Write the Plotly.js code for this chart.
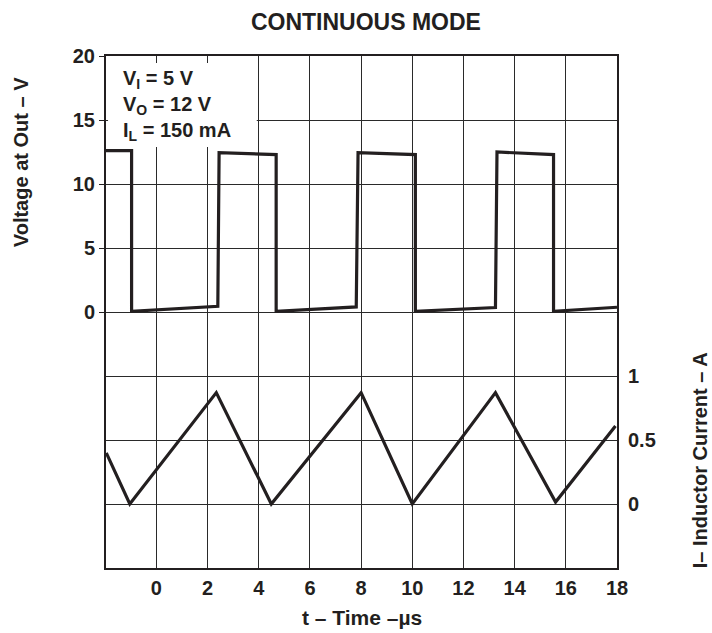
<!DOCTYPE html>
<html><head><meta charset="utf-8">
<script src="https://cdn.plot.ly/plotly-3.0.1.min.js"></script>
<style>body{margin:0;background:#fff}#chart{width:712px;height:633px}</style>
</head><body><div id="chart"></div>
<script>
const voltageTime = [-2, -0.97, -0.97, 2.40, 2.45, 4.68, 4.68, 7.81, 7.88, 10.12, 10.12, 13.25, 13.31, 15.52, 15.52, 18];
const voltageOut  = [12.6, 12.6, 0.05, 0.45, 12.45, 12.3, 0.05, 0.4, 12.45, 12.3, 0.05, 0.35, 12.5, 12.3, 0.05, 0.37];
const currentTime = [-1.96, -1.04, 2.34, 4.49, 8.0, 10.0, 13.25, 15.6, 17.94];
const inductorCurrent = [0.40, 0, 0.87, 0, 0.87, 0, 0.87, 0.015, 0.61];
const xTicks = [0, 2, 4, 6, 8, 10, 12, 14, 16, 18];
const voltTicks = [0, 5, 10, 15, 20];
const currentTicks = [0, 0.5, 1];
const currentTickText = ['0', '0.5', '1'];
const chartTitle = 'CONTINUOUS MODE';
const xTitle = 't – Time –µs';
const yTitle = 'Voltage at Out – V';
const y2Title = 'I– Inductor Current – A';
const conditions = 'V<sub>I</sub> = 5 V<br>V<sub>O</sub> = 12 V<br>I<sub>L</sub> = 150 mA';

const FONT = 'Liberation Sans, Arial, sans-serif';
const INK = '#231f20';
const GRID = '#2a2a2a';

const traces = [
  {x: voltageTime, y: voltageOut, type: 'scatter', mode: 'lines', yaxis: 'y',
   line: {color: INK, width: 3.2}, hoverinfo: 'skip'},
  {x: currentTime, y: inductorCurrent, type: 'scatter', mode: 'lines', yaxis: 'y2',
   line: {color: INK, width: 3.2}, hoverinfo: 'skip'}
];

const tickFont = {family: FONT, size: 20, color: INK, weight: 'bold'};

const layout = {
  width: 712, height: 633,
  margin: {l: 106, r: 95, t: 56, b: 65},
  paper_bgcolor: '#fff', plot_bgcolor: '#fff',
  showlegend: false,
  title: {text: chartTitle, font: {family: FONT, size: 23, color: INK, weight: 'bold'},
          x: 0.514, xanchor: 'center', y: 0.965, yanchor: 'middle'},
  xaxis: {
    range: [-1.97, 18], tickvals: xTicks, showgrid: true, gridcolor: GRID, gridwidth: 1,
    zeroline: false, showline: true, linecolor: INK, linewidth: 2, mirror: true,
    ticks: '', tickfont: tickFont, ticklabelstandoff: 1
  },
  yaxis: {
    range: [-20, 20], tickvals: voltTicks, showgrid: true, gridcolor: GRID, gridwidth: 1,
    zeroline: false, showline: true, linecolor: INK, linewidth: 2, mirror: true,
    ticks: 'outside', ticklen: 5, tickwidth: 1, tickcolor: INK, tickfont: tickFont
  },
  yaxis2: {
    range: [-0.5, 3.5], overlaying: 'y', side: 'right', tickvals: currentTicks, ticktext: currentTickText,
    showgrid: true, gridcolor: GRID, gridwidth: 1, zeroline: false, showline: false,
    ticks: '', tickfont: tickFont, ticklabelstandoff: 10
  },
  shapes: [
    {type: 'rect', xref: 'paper', yref: 'y', x0: 0.004, x1: 0.295, y0: 12.9, y1: 19.45,
     fillcolor: '#fff', line: {width: 0}, layer: 'above'}
  ],
  annotations: [
    {text: conditions, xref: 'paper', yref: 'paper', x: 0.03, y: 0.982, xanchor: 'left', yanchor: 'top',
     align: 'left', showarrow: false, font: {family: FONT, size: 20, color: INK, weight: 'bold'}},
    {text: yTitle, xref: 'paper', yref: 'paper', x: -0.165, y: 0.792, textangle: -90,
     xanchor: 'center', yanchor: 'middle', showarrow: false,
     font: {family: FONT, size: 20, color: INK, weight: 'bold'}},
    {text: y2Title, xref: 'paper', yref: 'paper', x: 1.163, y: 0.211, textangle: -90,
     xanchor: 'center', yanchor: 'middle', showarrow: false,
     font: {family: FONT, size: 20, color: INK, weight: 'bold'}},
    {text: xTitle, xref: 'paper', yref: 'paper', x: 0.5, y: -0.097,
     xanchor: 'center', yanchor: 'middle', showarrow: false,
     font: {family: FONT, size: 21, color: INK, weight: 'bold'}}
  ]
};

Plotly.newPlot('chart', traces, layout, {displayModeBar: false, staticPlot: true});
</script>
</body></html>
